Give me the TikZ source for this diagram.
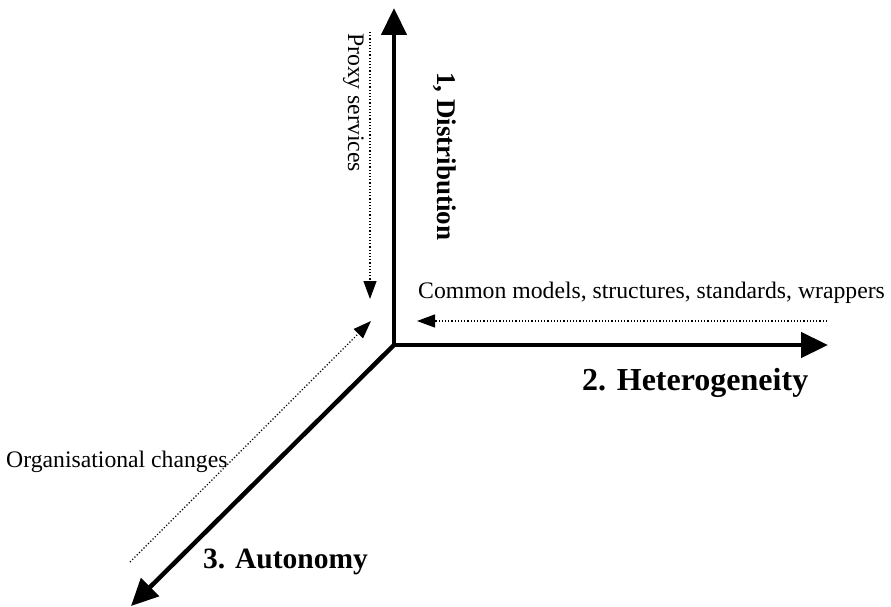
\documentclass[tikz,border=0pt]{standalone}
\usepackage{fontspec}
\setmainfont{Liberation Serif}
\usetikzlibrary{arrows.meta}
\begin{document}
\begin{tikzpicture}[x=1pt,y=-1pt,
  axis/.style={line width=4.5pt,-{Triangle[length=27pt,width=25pt]}},
  hint/.style={line width=1.2pt,dotted,-{Triangle[length=18pt,width=13pt]}},
  lbl/.style={font=\fontsize{23.7}{28}\selectfont,inner sep=0pt,anchor=base west},
  blbl/.style={font=\bfseries,inner sep=0pt,anchor=base west}]
\useasboundingbox (0,0) rectangle (891,607);
\coordinate (O) at (394,345);
\coordinate (Ytop) at (394,8);
\coordinate (Xend) at (828,345);
\coordinate (Zend) at (131,606);
\draw[axis] (O) -- (Ytop);
\draw[axis] (O) -- (Xend);
\draw[axis] (O) -- (Zend);
\coordinate (p1) at (370,32);
\coordinate (p2) at (370,299);
\draw[hint] (p1) -- (p2);
\coordinate (c1) at (827,321);
\coordinate (c2) at (417,321);
\draw[hint] (c1) -- (c2);
\coordinate (o1) at (130,562);
\coordinate (o2) at (371,321);
\draw[hint] (o1) -- (o2);
\node[blbl,rotate=-90,font=\fontsize{27}{32}\selectfont\bfseries] (dist) at (437,72) {1, Distribution};
\node[lbl,rotate=-90] (proxy) at (348,33) {Proxy services};
\node[lbl] (common) at (418,298) {Common models, structures, standards, wrappers};
\node[blbl,font=\fontsize{32}{38}\selectfont\bfseries] (het) at (582,390) {2. Heterogeneity};
\node[lbl] (org) at (6,467) {Organisational changes};
\node[blbl,font=\fontsize{29.5}{35}\selectfont\bfseries] (aut) at (203,568) {3. Autonomy};
\end{tikzpicture}
\end{document}
